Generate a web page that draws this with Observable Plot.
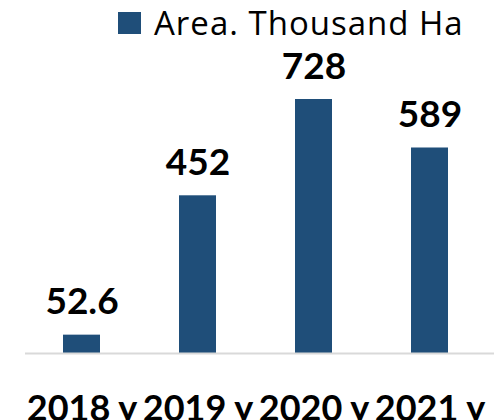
<!DOCTYPE html>
<html>
<head>
<meta charset="utf-8">
<script src="https://cdn.jsdelivr.net/npm/d3@7"></script>
<script src="https://cdn.jsdelivr.net/npm/@observablehq/plot@0.6"></script>
<style>
  html, body { margin: 0; padding: 0; background: #fff; overflow: hidden; }
  #wrap { position: relative; width: 494px; height: 420px; }
  #legend { position: absolute; left: 118px; top: 0px; display: flex; align-items: center; font-family: "Open Sans", Lato, sans-serif; font-size: 33px; letter-spacing: 1px; color: #000; white-space: nowrap; }
  #legend .sw { width: 23px; height: 22px; background: #1F4E79; margin-right: 13px; }
</style>
</head>
<body>
<div id="wrap">
  <div id="legend"><span class="sw"></span><span id="legtext"></span></div>
  <div id="chart"></div>
</div>
<script>
const categories = ["2018 y", "2019 y", "2020 y", "2021 y"];
const values = [52.6, 452, 728, 589];
const valueLabels = ["52.6", "452", "728", "589"];
const seriesName = "Area. Thousand Ha";

const data = categories.map((c, i) => ({cat: c, value: values[i], label: valueLabels[i]}));
const color = "#1F4E79";

document.getElementById("legtext").textContent = seriesName;

const chart = Plot.plot({
  width: 494,
  height: 420,
  marginLeft: 24,
  marginRight: 6,
  marginTop: 99,
  marginBottom: 67,
  style: {fontFamily: "Lato, 'Open Sans', sans-serif", background: "#fff", overflow: "visible"},
  x: {domain: categories, paddingInner: 0.68, paddingOuter: 0.34, axis: null},
  y: {domain: [0, d3.max(values)], axis: null},
  marks: [
    Plot.barY(data, {x: "cat", y: "value", fill: color}),
    Plot.ruleY([0], {stroke: "#d9d9d9", strokeWidth: 2, insetLeft: 1, insetRight: -6}),
    Plot.text(data, {x: "cat", y: "value", text: "label", dy: -21, lineAnchor: "bottom", fontSize: 37, fontWeight: "bold", fill: "#000"}),
    Plot.axisX({tickSize: 0, tickPadding: 42, fontSize: 36, fontWeight: "bold", fill: "#000", label: null})
  ]
});
document.getElementById("chart").appendChild(chart);
</script>
</body>
</html>
